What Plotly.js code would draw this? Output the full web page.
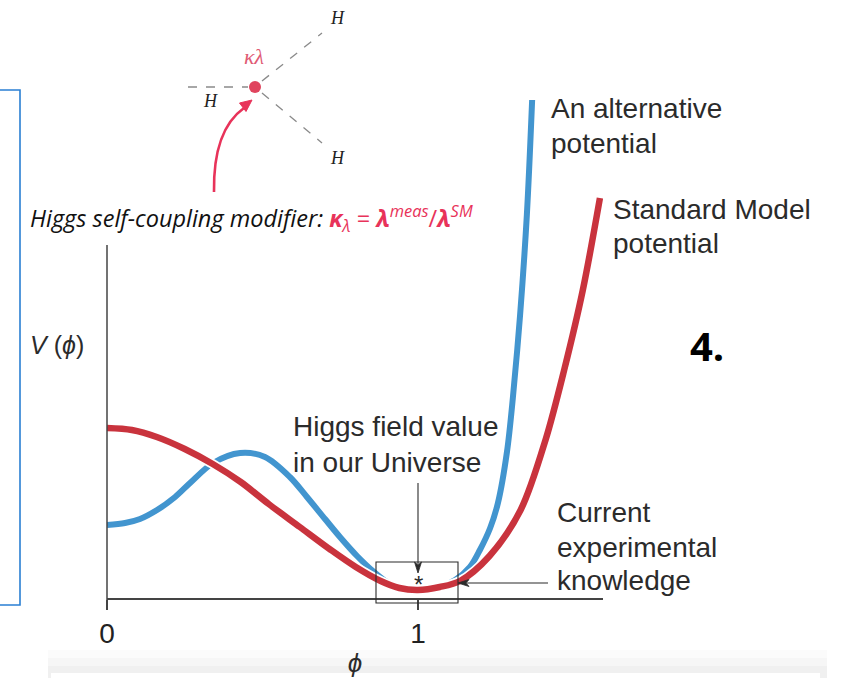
<!DOCTYPE html>
<html>
<head>
<meta charset="utf-8">
<script src="https://cdn.plot.ly/plotly-3.0.1.min.js"></script>
<style>
  html, body { margin: 0; padding: 0; background: #fff; }
  #chart { width: 846px; height: 678px; }
</style>
</head>
<body>
<div id="chart"></div>
<script>
// Field values (phi) and potential values V(phi) for the two potentials
const phiSM = [0, 0.08, 0.16, 0.25, 0.34, 0.43, 0.52, 0.62, 0.72, 0.80, 0.88, 0.94, 1.0, 1.07, 1.135, 1.23, 1.33, 1.41, 1.47, 1.53, 1.585];
const vSM   = [1.70, 1.68, 1.61, 1.49, 1.34, 1.16, 0.94, 0.71, 0.48, 0.31, 0.17, 0.10, 0.08, 0.11, 0.17, 0.42, 0.88, 1.58, 2.28, 3.08, 4.00];

const phiAlt = [0, 0.058, 0.106, 0.161, 0.219, 0.267, 0.341, 0.428, 0.508, 0.588, 0.643, 0.701, 0.749, 0.804, 0.855, 0.910, 0.958, 1.0, 1.055, 1.119, 1.167, 1.199, 1.232, 1.257, 1.286, 1.305, 1.328, 1.350, 1.367];
const vAlt   = [0.73, 0.75, 0.79, 0.88, 1.01, 1.15, 1.35, 1.45, 1.41, 1.21, 1.01, 0.79, 0.61, 0.42, 0.27, 0.14, 0.09, 0.08, 0.10, 0.18, 0.31, 0.48, 0.70, 0.95, 1.46, 2.00, 2.82, 3.83, 4.98];

const tickVals = [0, 1];
const tickText = ['0', '1'];

const RED = '#c9333d';
const BLUE = '#4295cf';
const PINK = '#e8335a';
const INK = '#2b2b2b';

// Figure geometry: plot area spans 107..603 px horizontally, 90..598 px vertically
const W = 846, H = 678;
const L = 107, R = 603, T = 90, B = 598;
const X = px => (px - L) / (R - L);
const Y = py => (B - py) / (B - T);
const P = (px, py) => X(px) + ' ' + Y(py);

const SANS = 'Liberation Sans, Arial, sans-serif';

const traces = [
  { x: phiAlt, y: vAlt, mode: 'lines', line: { color: BLUE, width: 6, shape: 'spline', smoothing: 0.9 }, hoverinfo: 'skip', showlegend: false },
  { x: phiSM, y: vSM, mode: 'lines', line: { color: '#ffffff', width: 10, shape: 'spline', smoothing: 0.9 }, hoverinfo: 'skip', showlegend: false },
  { x: phiSM, y: vSM, mode: 'lines', line: { color: RED, width: 6.5, shape: 'spline', smoothing: 0.9 }, hoverinfo: 'skip', showlegend: false }
];

function txt(text, px, py, opts) {
  return Object.assign({
    text: text, xref: 'paper', yref: 'paper', x: X(px), y: Y(py),
    xanchor: 'left', yanchor: 'middle', showarrow: false,
    font: { family: SANS, size: 28, color: INK }
  }, opts || {});
}

const SERIF = { family: 'Liberation Serif, DejaVu Serif, serif', size: 18, color: '#222' };

const annotations = [
  txt('An alternative', 549, 108),
  txt('potential', 549, 143),
  txt('Standard Model', 611, 209),
  txt('potential', 611, 243),
  txt('Higgs field value', 291, 427),
  txt('in our Universe', 291, 462),
  txt('Current', 555, 512),
  txt('experimental', 555, 547),
  txt('knowledge', 555, 580),
  txt('<i>V</i> (<i>ϕ</i>)', 57, 345, { xanchor: 'center', font: { family: SANS, size: 25, color: INK } }),
  txt('<b>4.</b>', 707, 345, { xanchor: 'center', font: { family: 'Open Sans, sans-serif', size: 40, color: '#000' } }),
  txt('*', 418, 584, { xanchor: 'center', font: { family: SANS, size: 24, color: INK } }),
  // Feynman vertex labels
  txt('<i>H</i>', 337, 18, { xanchor: 'center', font: SERIF }),
  txt('<i>H</i>', 210, 101, { xanchor: 'center', font: SERIF }),
  txt('<i>H</i>', 337, 158, { xanchor: 'center', font: SERIF }),
  txt('<i>κλ</i>', 254, 57, { xanchor: 'center', font: { family: 'Liberation Serif, DejaVu Serif, serif', size: 22, color: '#e05a74' } }),
  // caption
  txt('<i>Higgs self-coupling modifier: </i><span style="color:' + PINK + '"><b><i>κ</i></b><sub><i>λ</i></sub> = <b><i>λ</i></b><sup><i>meas</i></sup>/<b><i>λ</i></b><sup><i>SM</i></sup></span>',
      28, 218, { font: { family: 'Open Sans, sans-serif', size: 23.5, color: '#111' } })
];

const dash = { color: '#8a8a8a', width: 1.3, dash: 'dash' };
const thin = { color: INK, width: 1.1 };
const shapes = [
  // soft grey strip along the lower edge
  { type: 'rect', xref: 'paper', yref: 'paper', x0: X(48), x1: X(827), y0: Y(658), y1: Y(650), fillcolor: '#fbfbfb', line: { width: 0 }, layer: 'below' },
  { type: 'rect', xref: 'paper', yref: 'paper', x0: X(48), x1: X(827), y0: Y(666), y1: Y(658), fillcolor: '#f6f6f6', line: { width: 0 }, layer: 'below' },
  { type: 'rect', xref: 'paper', yref: 'paper', x0: X(48), x1: X(827), y0: Y(679), y1: Y(666), fillcolor: '#f0f0f0', line: { width: 0 }, layer: 'below' },
  { type: 'rect', xref: 'paper', yref: 'paper', x0: X(51), x1: X(820), y0: Y(679), y1: Y(673), fillcolor: '#ffffff', line: { width: 0 }, layer: 'below' },
  // blue frame at the left
  { type: 'rect', xref: 'paper', yref: 'paper', x0: X(-6), x1: X(20), y0: Y(605), y1: Y(90), line: { color: '#2a7fd3', width: 1.6 } },
  // vertical axis
  { type: 'line', xref: 'paper', yref: 'paper', x0: 0, x1: 0, y0: Y(608), y1: Y(245), line: { color: '#444', width: 1.5 } },
  // box around the minimum
  { type: 'rect', xref: 'paper', yref: 'paper', x0: X(376), x1: X(458), y0: Y(603), y1: Y(562), line: thin },
  // pointer from the "Higgs field value" label down to the minimum
  { type: 'line', xref: 'paper', yref: 'paper', x0: X(418), x1: X(418), y0: Y(483), y1: Y(564), line: thin },
  { type: 'path', xref: 'paper', yref: 'paper', path: 'M ' + P(418, 573) + ' L ' + P(414.5, 562) + ' L ' + P(418, 565) + ' L ' + P(421.5, 562) + ' Z',
    fillcolor: INK, line: { color: INK, width: 0.8 } },
  // pointer from "Current experimental knowledge" to the box
  { type: 'line', xref: 'paper', yref: 'paper', x0: X(467), x1: X(548), y0: Y(583), y1: Y(583), line: thin },
  { type: 'path', xref: 'paper', yref: 'paper', path: 'M ' + P(458, 583) + ' L ' + P(469, 579.5) + ' L ' + P(466, 583) + ' L ' + P(469, 586.5) + ' Z',
    fillcolor: INK, line: { color: INK, width: 0.8 } },
  // Feynman diagram
  { type: 'line', xref: 'paper', yref: 'paper', x0: X(188), x1: X(248), y0: Y(87), y1: Y(87), line: dash },
  { type: 'line', xref: 'paper', yref: 'paper', x0: X(262), x1: X(322), y0: Y(81), y1: Y(33), line: dash },
  { type: 'line', xref: 'paper', yref: 'paper', x0: X(262), x1: X(322), y0: Y(93), y1: Y(143), line: dash },
  { type: 'circle', xref: 'paper', yref: 'paper', x0: X(249), x1: X(261), y0: Y(93), y1: Y(81), fillcolor: '#e0445e', line: { width: 0 } },
  // curved pointer to the vertex
  { type: 'path', xref: 'paper', yref: 'paper',
    path: 'M ' + P(214, 192) + ' Q ' + P(213, 130) + ' ' + P(244, 108),
    line: { color: PINK, width: 2.6 } },
  { type: 'path', xref: 'paper', yref: 'paper',
    path: 'M ' + P(252, 100) + ' L ' + P(246, 111.5) + ' L ' + P(239.5, 103) + ' Z',
    fillcolor: PINK, line: { color: PINK, width: 1 } }
];

const layout = {
  width: W, height: H,
  margin: { l: L, r: W - R, t: T, b: H - B, pad: 0 },
  paper_bgcolor: '#ffffff', plot_bgcolor: 'rgba(0,0,0,0)',
  showlegend: false,
  xaxis: {
    range: [0, (R - L) / 311], showgrid: false, zeroline: false,
    showline: true, linecolor: '#444', linewidth: 1.5,
    ticks: 'outside', ticklen: 10, tickwidth: 1.2, tickcolor: '#444',
    tickvals: tickVals, ticktext: tickText,
    tickfont: { family: SANS, size: 28, color: '#222' },
    title: { text: '<i>ϕ</i>', font: { family: SANS, size: 26, color: INK }, standoff: 5 },
    fixedrange: true
  },
  yaxis: {
    range: [0, (B - T) / 100], visible: false, fixedrange: true
  },
  annotations: annotations,
  shapes: shapes
};

Plotly.newPlot('chart', traces, layout, { displayModeBar: false, staticPlot: true });
</script>
</body>
</html>
